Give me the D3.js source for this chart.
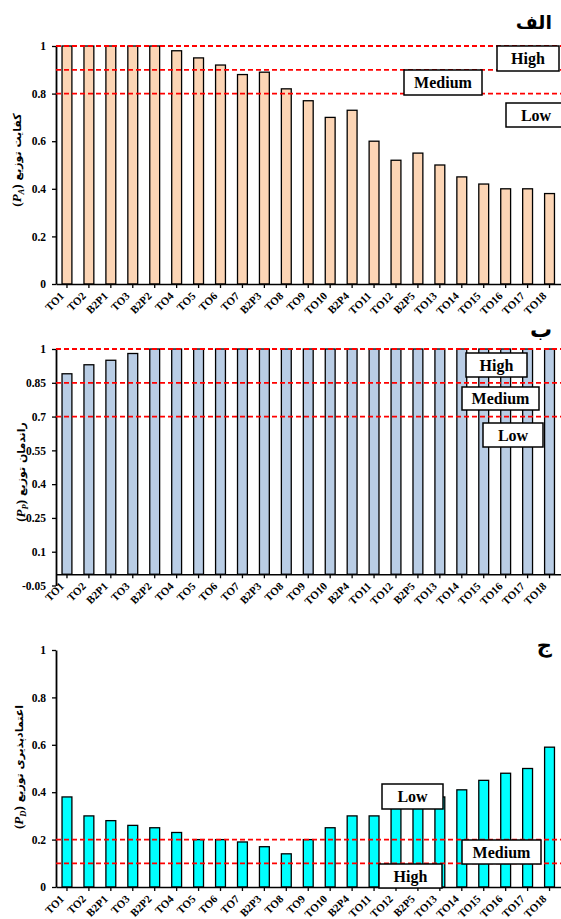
<!DOCTYPE html>
<html>
<head>
<meta charset="utf-8">
<script src="https://cdn.jsdelivr.net/npm/d3@7"></script>
<style>
  body { margin: 0; background: #fff; }
  svg { display: block; }
</style>
</head>
<body>
<svg id="chart" width="561" height="919"></svg>
<script>
// categories shared by the three panels
const categories = ["TO1", "TO2", "B2P1", "TO3", "B2P2", "TO4", "TO5", "TO6", "TO7", "B2P3", "TO8",
    "TO9", "TO10", "B2P4", "TO11", "TO12", "B2P5", "TO13", "TO14", "TO15", "TO16", "TO17", "TO18"];

// (الف) adequacy
const adequacy = [1, 1, 1, 1, 1, 0.98, 0.95, 0.92, 0.88, 0.89, 0.82,
    0.77, 0.70, 0.73, 0.60, 0.52, 0.55, 0.50, 0.45, 0.42, 0.40, 0.40, 0.38];
const adequacyTicks = [0, 0.2, 0.4, 0.6, 0.8, 1];
const adequacyLevels = [1, 0.9, 0.8];

// (ب) efficiency
const efficiency = [0.89, 0.93, 0.95, 0.98, 1, 1, 1, 1, 1, 1, 1,
    1, 1, 1, 1, 1, 1, 1, 1, 1, 1, 1, 1];
const efficiencyTicks = [-0.05, 0.1, 0.25, 0.4, 0.55, 0.7, 0.85, 1];
const efficiencyLevels = [1, 0.85, 0.7];

// (ج) dependability
const dependability = [0.38, 0.30, 0.28, 0.26, 0.25, 0.23, 0.20, 0.20, 0.19, 0.17, 0.14,
    0.20, 0.25, 0.30, 0.30, 0.34, 0.36, 0.38, 0.41, 0.45, 0.48, 0.50, 0.59];
const dependabilityTicks = [0, 0.2, 0.4, 0.6, 0.8, 1];
const dependabilityLevels = [0.2, 0.1];

const serif = "'Liberation Serif', 'Times New Roman', serif";
const arabic = "'DejaVu Sans', sans-serif";

const svg = d3.select("#chart");

const x = d3.scaleBand()
    .domain(categories)
    .range([56, 560.5])
    .paddingInner(0.55)
    .paddingOuter(0.275);

const fmt = d => String(+d.toFixed(2));

function drawPanel(p) {
    const g = svg.append("g");
    const y = d3.scaleLinear().domain(p.domain).range(p.range);

    // bars
    g.append("g").selectAll("rect")
        .data(p.values)
        .join("rect")
        .attr("x", (d, i) => x(categories[i]))
        .attr("width", x.bandwidth())
        .attr("y", d => y(Math.max(0, d)))
        .attr("height", d => Math.abs(y(d) - y(0)))
        .attr("fill", p.color)
        .attr("stroke", "#000")
        .attr("stroke-width", 1.3);

    // y axis
    const ya = g.append("g")
        .attr("transform", `translate(${x.range()[0]},0)`)
        .call(d3.axisLeft(y).tickValues(p.ticks).tickSize(4).tickPadding(6)
            .tickSizeOuter(0).tickFormat(fmt));
    ya.attr("font-family", null).attr("font-size", null);
    ya.select(".domain").attr("stroke-width", 1.8);
    ya.selectAll(".tick line").attr("stroke-width", 1.3);
    ya.selectAll("text")
        .attr("font-family", serif).attr("font-weight", "bold").attr("font-size", 11.5);

    // x axis
    const xa = g.append("g")
        .attr("transform", `translate(0,${y(0)})`)
        .call(d3.axisBottom(x).tickSize(4).tickSizeOuter(0));
    xa.attr("font-family", null).attr("font-size", null);
    xa.select(".domain").attr("stroke-width", 1.5);
    xa.selectAll(".tick line").attr("stroke-width", 1.3);
    xa.selectAll("text")
        .attr("x", 0).attr("y", 0).attr("dy", "0.35em")
        .attr("text-anchor", "end")
        .attr("transform", "translate(-5,10) rotate(-45)")
        .attr("font-family", serif).attr("font-weight", "bold").attr("font-size", 11);

    // threshold lines
    g.append("g").selectAll("line")
        .data(p.levels)
        .join("line")
        .attr("x1", x.range()[0]).attr("x2", 561)
        .attr("y1", d => y(d)).attr("y2", d => y(d))
        .attr("stroke", "#ff0000")
        .attr("stroke-width", 1.8)
        .attr("stroke-dasharray", "5,3");

    // class boxes
    const boxes = g.append("g").selectAll("g")
        .data(p.boxes)
        .join("g");
    boxes.append("rect")
        .attr("x", d => d.x0).attr("y", d => d.y0)
        .attr("width", d => d.x1 - d.x0).attr("height", d => d.y1 - d.y0)
        .attr("fill", "#fff").attr("stroke", "#000").attr("stroke-width", 1.5);
    boxes.append("text")
        .attr("x", d => (d.x0 + d.x1) / 2)
        .attr("y", d => (d.y0 + d.y1) / 2)
        .attr("dy", "0.35em")
        .attr("text-anchor", "middle")
        .attr("font-family", serif).attr("font-weight", "bold").attr("font-size", 16)
        .text(d => d.label);

    // panel letter
    g.append("text")
        .attr("x", 552).attr("y", p.titleY)
        .attr("text-anchor", "end")
        .attr("font-family", arabic).attr("font-weight", "bold").attr("font-size", p.titleSize)
        .text(p.title);

    // y label: (P_x) + persian text, rotated
    const lab = g.append("g")
        .attr("transform", `translate(${p.labelX},${p.labelY}) rotate(-90)`);
    const sym = lab.append("text")
        .attr("font-family", serif).attr("font-weight", "bold").attr("font-size", 13);
    sym.append("tspan").text("(");
    sym.append("tspan").attr("font-style", "italic").text("P");
    sym.append("tspan").attr("dy", 3).attr("font-size", 8.5).attr("font-style", "italic").text(p.sub);
    sym.append("tspan").attr("dy", -3).text(")");
    const fa = lab.append("text")
        .attr("direction", "ltr")
        .attr("font-family", arabic).attr("font-weight", "bold").attr("font-size", 11)
        .text(p.yLabel);
    const w1 = sym.node().getComputedTextLength();
    const w2 = fa.node().getComputedTextLength();
    const start = -(w1 + 4 + w2) / 2;
    sym.attr("x", start);
    fa.attr("x", start + w1 + 4);
}

drawPanel({
    values: adequacy, ticks: adequacyTicks, levels: adequacyLevels,
    domain: [0, 1], range: [284, 46], color: "#fcd5b5",
    title: "الف", titleY: 29, titleSize: 19,
    yLabel: "کفایت توزیع", sub: "A", labelX: 21, labelY: 160,
    boxes: [
        {label: "High", x0: 497, y0: 46, x1: 559, y1: 71},
        {label: "Medium", x0: 404, y0: 70, x1: 482, y1: 95},
        {label: "Low", x0: 506, y0: 103, x1: 566, y1: 127}
    ]
});

drawPanel({
    values: efficiency, ticks: efficiencyTicks, levels: efficiencyLevels,
    domain: [-0.05, 1], range: [585.5, 349], color: "#b9cde5",
    title: "ب", titleY: 337, titleSize: 22,
    yLabel: "راندمان توزیع", sub: "P", labelX: 25, labelY: 472,
    boxes: [
        {label: "High", x0: 466, y0: 353, x1: 527, y1: 377},
        {label: "Medium", x0: 462, y0: 387, x1: 539, y1: 410},
        {label: "Low", x0: 483, y0: 423, x1: 543, y1: 447}
    ]
});

drawPanel({
    values: dependability, ticks: dependabilityTicks, levels: dependabilityLevels,
    domain: [0, 1], range: [887, 650], color: "#00ffff",
    title: "ج", titleY: 652, titleSize: 21,
    yLabel: "اعتمادپذیری توزیع", sub: "D", labelX: 23, labelY: 767,
    boxes: [
        {label: "Low", x0: 382, y0: 784, x1: 443, y1: 809},
        {label: "Medium", x0: 462, y0: 840, x1: 541, y1: 864},
        {label: "High", x0: 379, y0: 864, x1: 442, y1: 888}
    ]
});
</script>
</body>
</html>
